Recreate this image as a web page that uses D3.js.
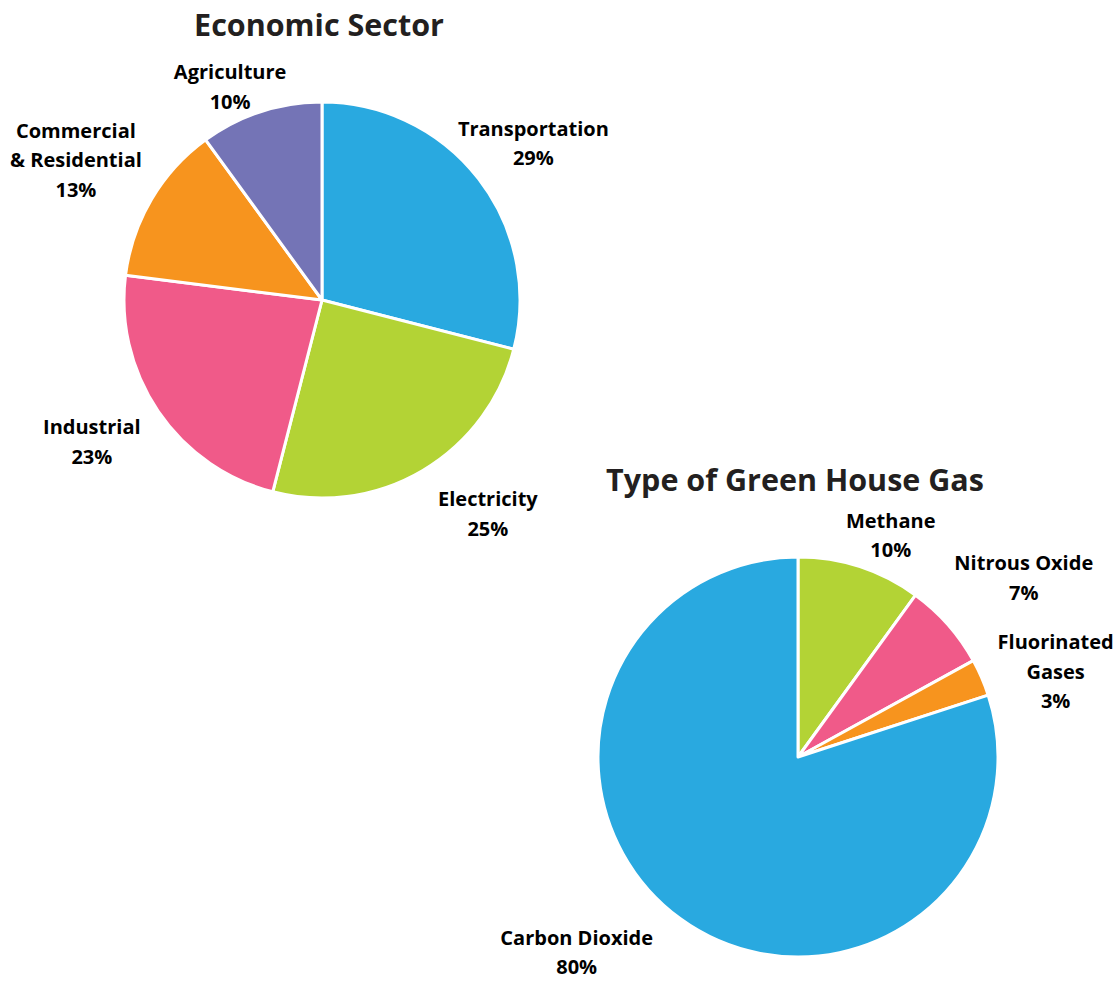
<!DOCTYPE html>
<html>
<head>
<meta charset="utf-8">
<script src="https://cdn.jsdelivr.net/npm/d3@7"></script>
<style>
body{margin:0;background:#fff}
svg text{font-family:"Open Sans",Roboto,sans-serif;font-weight:700}
</style>
</head>
<body>
<script>
// economic sector data
var sectorNames=["Transportation","Electricity","Industrial","Commercial\n& Residential","Agriculture"]
var sectorValues=[29,25,23,13,10]
var sectorColors=["#29a9e0","#b3d335","#f05a89","#f7941e","#7474b6"]

// greenhouse gas data
var gasNames=["Methane","Nitrous Oxide","Fluorinated\nGases","Carbon Dioxide"]
var gasValues=[10,7,3,80]
var gasColors=["#b3d335","#f05a89","#f7941e","#29a9e0"]

var width=1115, height=981

var svg=d3.select("body").append("svg")
  .attr("width",width)
  .attr("height",height)

// nudges so labels sit where the original put them
var nudges={
  "Transportation":[2,6],
  "Electricity":[31,-14],
  "Industrial":[-11,-7],
  "Commercial\n& Residential":[-18,-5],
  "Agriculture":[-10,39],
  "Methane":[10,33],
  "Nitrous Oxide":[25,-2],
  "Fluorinated\nGases":[12,21],
  "Carbon Dioxide":[-64,-21]
}

var drawPie=function(cx,cy,r,title,names,values,colors){
  var g=svg.append("g").attr("transform","translate("+cx+","+cy+")")
  var data=names.map(function(d,i){
    return {name:d,value:values[i],color:colors[i]}
  })
  var pie=d3.pie().sort(null).value(function(d){return d.value})
  var arc=d3.arc().innerRadius(0).outerRadius(r)
  var labelArc=d3.arc().innerRadius(r*265/198).outerRadius(r*265/198)
  var arcs=pie(data)

  g.selectAll("path")
    .data(arcs)
    .enter()
    .append("path")
    .attr("d",arc)
    .attr("fill",function(d){return d.data.color})
    .attr("stroke","#fff")
    .attr("stroke-width",3)
    .attr("stroke-linejoin","round")

  var labels=g.selectAll("text.lbl")
    .data(arcs)
    .enter()
    .append("text")
    .attr("class","lbl")
    .attr("text-anchor","middle")
    .attr("font-size",20)
    .attr("fill","#000")
    .each(function(d){
      var c=labelArc.centroid(d)
      var n=nudges[d.data.name]||[0,0]
      var lines=d.data.name.split("\n").concat([d.data.value+"%"])
      var lh=29.5
      var top=c[1]+n[1]-(lines.length-1)*lh/2
      var t=d3.select(this)
      lines.forEach(function(l,i){
        t.append("tspan")
          .attr("x",c[0]+n[0])
          .attr("y",top+i*lh)
          .attr("dy","0.35em")
          .text(l)
      })
    })

  g.append("text")
    .attr("x",-3)
    .attr("y",-r-77)
    .attr("dy","0.35em")
    .attr("text-anchor","middle")
    .attr("font-size",30.5)
    .attr("fill","#231f20")
    .text(title)
}

drawPie(322,300,198,"Economic Sector",sectorNames,sectorValues,sectorColors)
drawPie(798,757,200,"Type of Green House Gas",gasNames,gasValues,gasColors)
</script>
</body>
</html>
